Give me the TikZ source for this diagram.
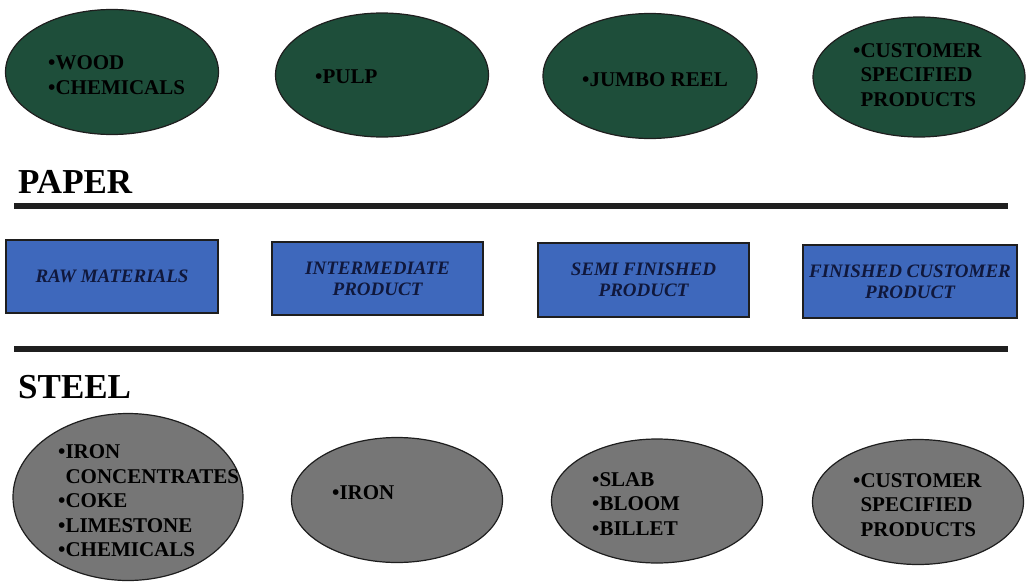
\documentclass[tikz,border=0pt]{standalone}
\usepackage{fontspec}
\setmainfont{Liberation Serif}
\usetikzlibrary{shapes.geometric}
\definecolor{paperfill}{RGB}{30,78,58}
\definecolor{steelfill}{RGB}{118,118,118}
\definecolor{stagefill}{RGB}{62,104,188}
\definecolor{stagetext}{RGB}{16,24,60}
\definecolor{rimline}{RGB}{30,30,30}
\begin{document}
\begin{tikzpicture}[x=1pt,y=-1pt,
  paperoval/.style={ellipse,draw=rimline,line width=1.2pt,fill=paperfill,inner sep=0pt},
  steeloval/.style={ellipse,draw=rimline,line width=1.2pt,fill=steelfill,inner sep=0pt},
  stagebox/.style={rectangle,draw=rimline,line width=1.2pt,fill=stagefill,inner sep=0pt,
    font=\fontsize{19}{21}\selectfont\bfseries\itshape,text=stagetext,align=center},
  itemtext/.style={anchor=west,inner sep=0pt,align=left,text=black,
    font=\fontsize{21}{24.5}\selectfont\bfseries},
  heading/.style={anchor=base west,inner sep=0pt,font=\fontsize{35}{38}\selectfont\bfseries},
  rule/.style={line width=6pt,black!88}
]
\useasboundingbox (0,0) rectangle (1027,581);

% paper chain: ovals
\node[paperoval,minimum width=213pt,minimum height=125pt] (p1) at (112,72) {};
\node[paperoval,minimum width=213pt,minimum height=124pt] (p2) at (382,75) {};
\node[paperoval,minimum width=214pt,minimum height=125pt] (p3) at (650,76) {};
\node[paperoval,minimum width=212pt,minimum height=120pt] (p4) at (919,77) {};
\node[itemtext] (p1t) at (48,75) {•WOOD\\•CHEMICALS};
\node[itemtext] (p2t) at (315,77) {•PULP};
\node[itemtext] (p3t) at (582,80) {•JUMBO REEL};
\node[itemtext] (p4t) at (853,75) {•CUSTOMER\\\phantom{•}SPECIFIED\\\phantom{•}PRODUCTS};

% headings and rules
\node[heading] (paper) at (18,193) {PAPER};
\coordinate (r1a) at (14,206);
\coordinate (r1b) at (1008,206);
\draw[rule] (r1a) -- (r1b);
\coordinate (r2a) at (14,349);
\coordinate (r2b) at (1008,349);
\draw[rule] (r2a) -- (r2b);
\node[heading] (steel) at (18,398) {STEEL};

% stage boxes
\node[stagebox,minimum width=212pt,minimum height=73pt] (s1) at (112,276.5) {RAW MATERIALS};
\node[stagebox,minimum width=211pt,minimum height=73pt] (s2) at (377.5,278.5) {INTERMEDIATE\\PRODUCT};
\node[stagebox,minimum width=211pt,minimum height=74pt] (s3) at (643.5,280) {SEMI FINISHED\\PRODUCT};
\node[stagebox,minimum width=214pt,minimum height=73pt] (s4) at (910,281.5) {FINISHED CUSTOMER\\PRODUCT};

% steel chain: ovals
\node[steeloval,minimum width=230pt,minimum height=167pt] (q1) at (128,497) {};
\node[steeloval,minimum width=211pt,minimum height=125pt] (q2) at (397,500) {};
\node[steeloval,minimum width=211pt,minimum height=124pt] (q3) at (657,501) {};
\node[steeloval,minimum width=211pt,minimum height=125pt] (q4) at (918,502) {};
\node[itemtext] (q1t) at (58,501) {•IRON\\\phantom{•}CONCENTRATES\\•COKE\\•LIMESTONE\\•CHEMICALS};
\node[itemtext] (q2t) at (332,493) {•IRON};
\node[itemtext] (q3t) at (592,504) {•SLAB\\•BLOOM\\•BILLET};
\node[itemtext] (q4t) at (853,505) {•CUSTOMER\\\phantom{•}SPECIFIED\\\phantom{•}PRODUCTS};
\end{tikzpicture}
\end{document}
